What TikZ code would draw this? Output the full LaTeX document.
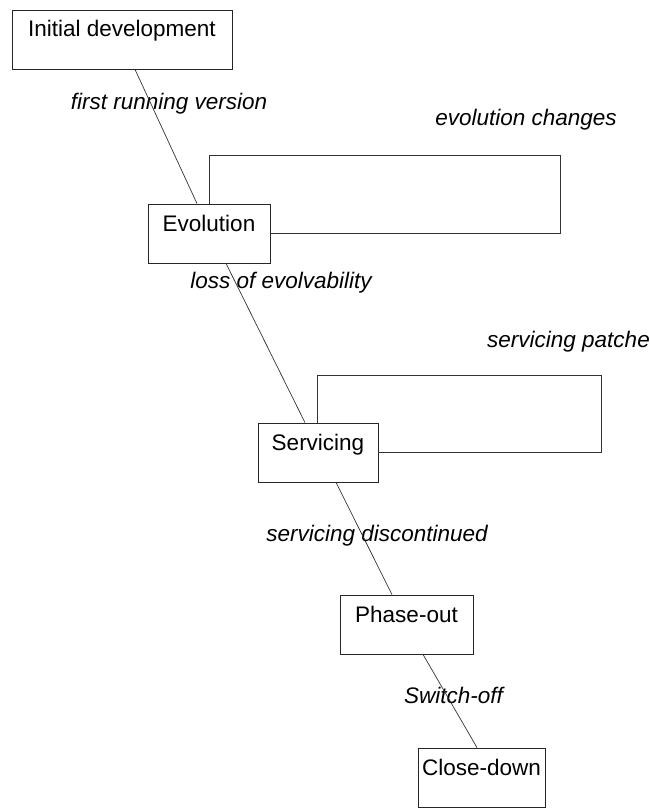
\documentclass[tikz,border=0pt]{standalone}
\usepackage{fontspec}
\setmainfont{Liberation Sans}
\usepackage{tikz}
\usetikzlibrary{positioning, calc}
\tikzset{
	stagenode/.style={
			draw=black!85,
			line width=0.8pt,
			rectangle,
			inner xsep=0pt,
			inner ysep=0pt,
			text height=27pt,
			text depth=32pt,
			anchor=base,
			font=\fontsize{22.5}{26}\selectfont
		},
	eventnode/.style={
			inner sep=0pt,
			anchor=base,
			font=\fontsize{22.5}{26}\selectfont\itshape
		},
	flowline/.style={
			draw=black!80,
			line width=0.7pt
		}
}
\begin{document}
\begin{tikzpicture}[x=1pt,y=-1pt]
\useasboundingbox (0,0) rectangle (649,808);

\node[stagenode, minimum width=220pt] (tInit) at (122,37) {Initial development};
\node[stagenode, minimum width=122pt] (tEvo) at (209,231) {Evolution};
\node[stagenode, minimum width=120pt] (tServ) at (318,450) {Servicing};
\node[stagenode, minimum width=133pt] (tPhase) at (406.5,622) {Phase-out};
\node[stagenode, minimum width=127pt] (tClose) at (481.5,775) {Close-down};

\coordinate (cEvoLoop) at (560,155);
\coordinate (cServLoop) at (601,375);

\node[eventnode] (lFirst) at (169,109) {first running version};
\node[eventnode] (lEvoChg) at (526,125) {evolution changes};
\node[eventnode] (lLoss) at (281,288) {loss of evolvability};
\node[eventnode, anchor=base east] (lPatch) at (650,347) {servicing patche};
\node[eventnode] (lDisc) at (377,541) {servicing discontinued};
\node[eventnode] (lSwitch) at (453.5,703) {Switch-off};

\draw[flowline] ([xshift=13pt]tInit.south) -- ([xshift=-12pt]tEvo.north);
\draw[flowline] ([xshift=17pt]tEvo.south) -- ([xshift=-13pt]tServ.north);
\draw[flowline] ([xshift=18pt]tServ.south) -- ([xshift=-14.5pt]tPhase.north);
\draw[flowline] ([xshift=16.5pt]tPhase.south) -- ([xshift=-4.5pt]tClose.north);

\draw[flowline] (tEvo.north) |- (cEvoLoop) |- (tEvo.east);
\draw[flowline] ([xshift=-1pt]tServ.north) |- (cServLoop) |- (tServ.east);

\end{tikzpicture}
\end{document}
